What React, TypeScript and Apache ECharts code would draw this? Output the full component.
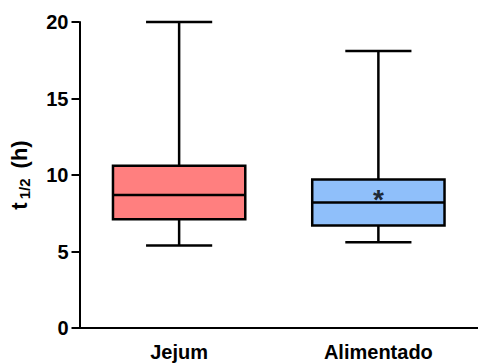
import React, { useEffect, useRef } from "react";
import * as echarts from "echarts";

const categories = ["Jejum", "Alimentado"];
// [min, Q1, median, Q3, max]
const jejum = [5.4, 7.1, 8.7, 10.6, 20.0];
const alimentado = [5.6, 6.7, 8.2, 9.7, 18.1];
const boxColors = ["#FF7F7F", "#8FBFFA"];
const yTicks = [0, 5, 10, 15, 20];
const asterisk = [1, 8.8];

export default function App() {
  const ref = useRef<HTMLDivElement>(null);
  useEffect(() => {
    if (!ref.current) return;
    const chart = echarts.init(ref.current, null, { renderer: "svg" });
    const font = "'Liberation Sans', Arial, sans-serif";
    const boxData = [
      [0, ...jejum],
      [1, ...alimentado],
    ];
    chart.setOption({
      animation: false,
      backgroundColor: "#ffffff",
      grid: { left: 79, top: 22, width: 410, height: 306 },
      xAxis: {
        type: "category",
        data: categories,
        boundaryGap: true,
        axisLine: { lineStyle: { color: "#000", width: 2 } },
        axisTick: { alignWithLabel: true, length: 5, lineStyle: { color: "#000", width: 2 } },
        axisLabel: { color: "#000", fontSize: 20, fontWeight: "bold", fontFamily: font, margin: 14 },
        splitLine: { show: false },
      },
      yAxis: {
        type: "value",
        min: yTicks[0],
        max: yTicks[yTicks.length - 1],
        interval: 5,
        name: "{t|t}{sub|1/2}{r| (h)}",
        nameLocation: "middle",
        nameRotate: 90,
        nameGap: 48,
        nameTextStyle: {
          color: "#000",
          fontSize: 22,
          fontWeight: "bold",
          fontFamily: font,
          rich: {
            t: { fontSize: 22, fontWeight: "bold", fontFamily: font, color: "#000", padding: [0, 3, 0, 0] },
            sub: { fontSize: 15, fontWeight: "bold", fontFamily: font, color: "#000", padding: [10, 0, 0, 0] },
            r: { fontSize: 22, fontWeight: "bold", fontFamily: font, color: "#000", padding: [0, 0, 0, 4] },
          },
        },
        axisLine: { show: true, lineStyle: { color: "#000", width: 2 } },
        axisTick: { show: true, length: 8, lineStyle: { color: "#000", width: 2 } },
        axisLabel: { color: "#000", fontSize: 20, fontWeight: "bold", fontFamily: font, margin: 11 },
        splitLine: { show: false },
      },
      series: [
        {
          type: "custom",
          data: boxData,
          encode: { x: 0, y: [1, 2, 3, 4, 5] },
          renderItem: (params: any, api: any) => {
            const idx = api.value(0);
            const band = api.size([1, 0])[0];
            const bw = band * 0.664;
            const cw = bw / 2;
            const pMin = api.coord([idx, api.value(1)]);
            const pQ1 = api.coord([idx, api.value(2)]);
            const pMed = api.coord([idx, api.value(3)]);
            const pQ3 = api.coord([idx, api.value(4)]);
            const pMax = api.coord([idx, api.value(5)]);
            const cx = pMed[0];
            const line = { stroke: "#000", lineWidth: 2.5 };
            return {
              type: "group",
              children: [
                { type: "line", shape: { x1: cx, y1: pMax[1], x2: cx, y2: pQ3[1] }, style: line },
                { type: "line", shape: { x1: cx, y1: pQ1[1], x2: cx, y2: pMin[1] }, style: line },
                { type: "line", shape: { x1: cx - cw / 2, y1: pMax[1], x2: cx + cw / 2, y2: pMax[1] }, style: line },
                { type: "line", shape: { x1: cx - cw / 2, y1: pMin[1], x2: cx + cw / 2, y2: pMin[1] }, style: line },
                {
                  type: "rect",
                  shape: { x: cx - bw / 2, y: pQ3[1], width: bw, height: pQ1[1] - pQ3[1] },
                  style: { fill: boxColors[idx], stroke: "#000", lineWidth: 2.5 },
                },
                { type: "line", shape: { x1: cx - bw / 2, y1: pMed[1], x2: cx + bw / 2, y2: pMed[1] }, style: line },
              ],
            };
          },
        },
        {
          type: "scatter",
          symbolSize: 0,
          silent: true,
          data: [asterisk],
          label: {
            show: true,
            position: "inside",
            formatter: "*",
            color: "#000",
            fontSize: 28,
            fontWeight: "bold",
            fontFamily: font,
            offset: [0, 6],
          },
        },
      ],
    });
    return () => chart.dispose();
  }, []);
  return <div ref={ref} style={{ width: 478, height: 363, position: "absolute", left: 0, top: 0 }} />;
}
